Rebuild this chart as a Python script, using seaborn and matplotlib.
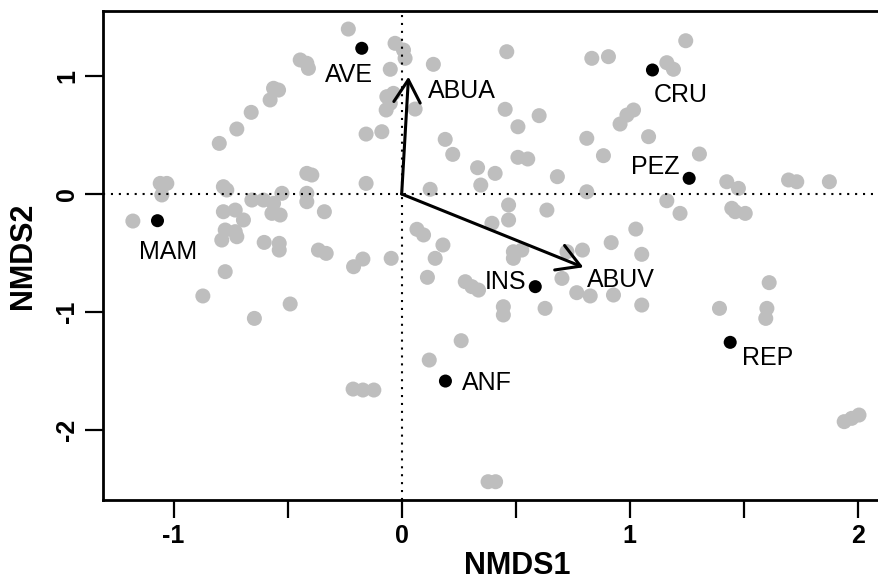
import numpy as np
import matplotlib
matplotlib.use("Agg")
import matplotlib.pyplot as plt
import seaborn as sns

# ==========================================
# DATA
# ==========================================
# site scores (grey)
site_x = [-0.234, -0.445, -0.416, -0.409, -0.050, -0.562, -0.540, -0.577, -0.660, -0.723,
          -0.800, -0.065, -0.036, -0.068, -0.087, -0.156, -0.416, -0.394, -0.156, -1.059,
          -1.030, -1.052, -0.782, -0.767, -0.657, -0.606, -0.562, -0.525, -0.416, -0.416,
          -1.179, -0.782, -0.730, -0.694, -0.774, -0.730, -0.789, -0.723, -0.569, -0.533,
          -0.339, -0.603, -0.537, -0.537, -0.365, -0.331, -0.211, -0.170, -0.046, -0.774,
          -0.872, -0.489, -0.646, -0.029, 0.008, 0.015, -0.050, 0.059, 0.139, 0.461,
          0.834, 0.907, 0.454, 0.510, 0.603, 0.191, 0.224, 0.333, 0.347, 0.410,
          0.510, 0.553, 0.683, 0.125, 0.812, 0.885, 0.812, 0.958, 0.988, 1.017,
          1.246, 1.163, 1.192, 1.083, 1.306, 1.426, 1.477, 1.697, 1.733, 1.876,
          1.163, 1.221, 1.448, 1.463, 1.507, 1.027, 1.053, 1.053, 1.394, 1.612,
          1.602, 1.597, 0.469, 0.469, 0.637, 0.396, 0.067, 0.096, 0.181, 0.147,
          0.490, 0.527, 0.490, 0.725, 0.703, 0.793, 0.919, 0.113, 0.279, 0.308,
          0.337, 0.768, 0.827, 0.929, 0.446, 0.446, 0.629, 0.261, 0.121, -0.213,
          -0.170, -0.122, 0.379, 0.412, 1.941, 1.974, 2.006]
site_y = [1.398, 1.136, 1.108, 1.065, 1.057, 0.896, 0.881, 0.797, 0.692, 0.551,
          0.429, 0.825, 0.853, 0.712, 0.528, 0.508, 0.175, 0.161, 0.090, 0.090,
          0.090, -0.008, 0.062, 0.034, -0.051, -0.051, -0.079, 0.006, 0.006, -0.065,
          -0.229, -0.150, -0.136, -0.220, -0.305, -0.319, -0.390, -0.362, -0.164, -0.178,
          -0.150, -0.410, -0.418, -0.475, -0.475, -0.503, -0.616, -0.551, -0.545, -0.658,
          -0.864, -0.932, -1.054, 1.277, 1.220, 1.150, 0.769, 0.720, 1.099, 1.206,
          1.150, 1.164, 0.718, 0.570, 0.664, 0.463, 0.336, 0.223, 0.076, 0.175,
          0.311, 0.297, 0.147, 0.040, 0.472, 0.325, 0.019, 0.593, 0.669, 0.712,
          1.299, 1.113, 1.057, 0.486, 0.339, 0.104, 0.048, 0.119, 0.104, 0.104,
          -0.057, -0.164, -0.121, -0.150, -0.164, -0.297, -0.511, -0.941, -0.969, -0.751,
          -0.969, -1.054, -0.093, -0.220, -0.136, -0.248, -0.299, -0.347, -0.432, -0.545,
          -0.489, -0.475, -0.545, -0.489, -0.715, -0.475, -0.412, -0.706, -0.743, -0.785,
          -0.814, -0.836, -0.864, -0.856, -0.955, -1.025, -0.969, -1.243, -1.407, -1.653,
          -1.661, -1.661, -2.438, -2.438, -1.929, -1.901, -1.873]

# group scores (black)
group_names = ["AVE", "CRU", "PEZ", "MAM", "INS", "ANF", "REP"]
group_x = [-0.175, 1.100, 1.261, -1.071, 0.586, 0.192, 1.441]
group_y = [1.235, 1.051, 0.133, -0.226, -0.785, -1.585, -1.257]

# fitted vectors
vec_names = ["ABUA", "ABUV"]
vec_x = [0.030, 0.797]
vec_y = [0.994, -0.621]

# label placement (pixels, relative to the point / arrow tip)
LABEL_OFFSET = {
    "AVE": (-13, -34), "CRU": (28, -32), "PEZ": (-34, 4), "MAM": (11, -38),
    "INS": (-30, -2), "ANF": (41, -9), "REP": (37, -23),
    "ABUA": (53, -21), "ABUV": (38, -20),
}

# ==========================================
# PLOT
# ==========================================
sns.set_style("white")
plt.rcParams['font.family'] = ['Liberation Sans', 'DejaVu Sans']
plt.rcParams['axes.unicode_minus'] = False
for key in ["text.color", "axes.labelcolor", "xtick.color", "ytick.color", "axes.edgecolor"]:
    plt.rcParams[key] = "black"

fig = plt.figure(figsize=(8.79, 5.81), dpi=100)
ax = fig.add_axes([103 / 879, 81 / 581, 782 / 879, 489 / 581])

sns.scatterplot(x=site_x, y=site_y, color="#bebebe", s=117, edgecolor="none",
                linewidth=0, ax=ax, zorder=2)

ax.axhline(0, color="black", lw=1.5, linestyle=(0, (1, 2.8)), zorder=3)
ax.axvline(0, color="black", lw=1.5, linestyle=(0, (1, 2.8)), zorder=3)

for name, vx, vy in zip(vec_names, vec_x, vec_y):
    ax.annotate("", xy=(vx, vy), xytext=(0, 0),
                arrowprops=dict(arrowstyle="->,head_length=0.65,head_width=0.38",
                                lw=2.2, color="black", mutation_scale=25,
                                shrinkA=0, shrinkB=0), zorder=4)
    dx, dy = LABEL_OFFSET[name]
    ax.annotate(name, xy=(vx, vy), xytext=(dx, dy), textcoords="offset pixels",
                ha="center", va="baseline", fontsize=18, zorder=5)

sns.scatterplot(x=group_x, y=group_y, color="black", s=88, edgecolor="none",
                linewidth=0, ax=ax, zorder=5)
for name, gx, gy in zip(group_names, group_x, group_y):
    dx, dy = LABEL_OFFSET[name]
    ax.annotate(name, xy=(gx, gy), xytext=(dx, dy), textcoords="offset pixels",
                ha="center", va="baseline", fontsize=18, zorder=6)

ax.set_xlim(-1.31, 2.12)
ax.set_ylim(-2.593, 1.551)

xt = np.arange(-1, 2.01, 0.5)
ax.set_xticks(xt)
ax.set_xticklabels([f"{v:g}" if v == int(v) else "" for v in xt])
ax.set_yticks([-2, -1, 0, 1])
ax.set_yticklabels(["-2", "-1", "0", "1"])

ax.tick_params(axis="both", direction="out", length=13, width=1.6, pad=4,
               labelsize=18, bottom=True, left=True, colors="black")
for lbl in ax.get_xticklabels() + ax.get_yticklabels():
    lbl.set_fontweight("bold")
for lbl in ax.get_yticklabels():
    lbl.set_rotation(90)
    lbl.set_va("center")

for sp in ax.spines.values():
    sp.set_linewidth(2.0)
    sp.set_color("black")

ax.set_xlabel("NMDS1", fontsize=22, fontweight="bold")
ax.set_ylabel("NMDS2", fontsize=22, fontweight="bold")
ax.xaxis.set_label_coords((517 - 103) / 782, -66 / 489)
ax.yaxis.set_label_coords(-80 / 782, 0.5)
ax.xaxis.label.set_va("center")
ax.yaxis.label.set_va("center")

fig.savefig("out.png", dpi=100)
